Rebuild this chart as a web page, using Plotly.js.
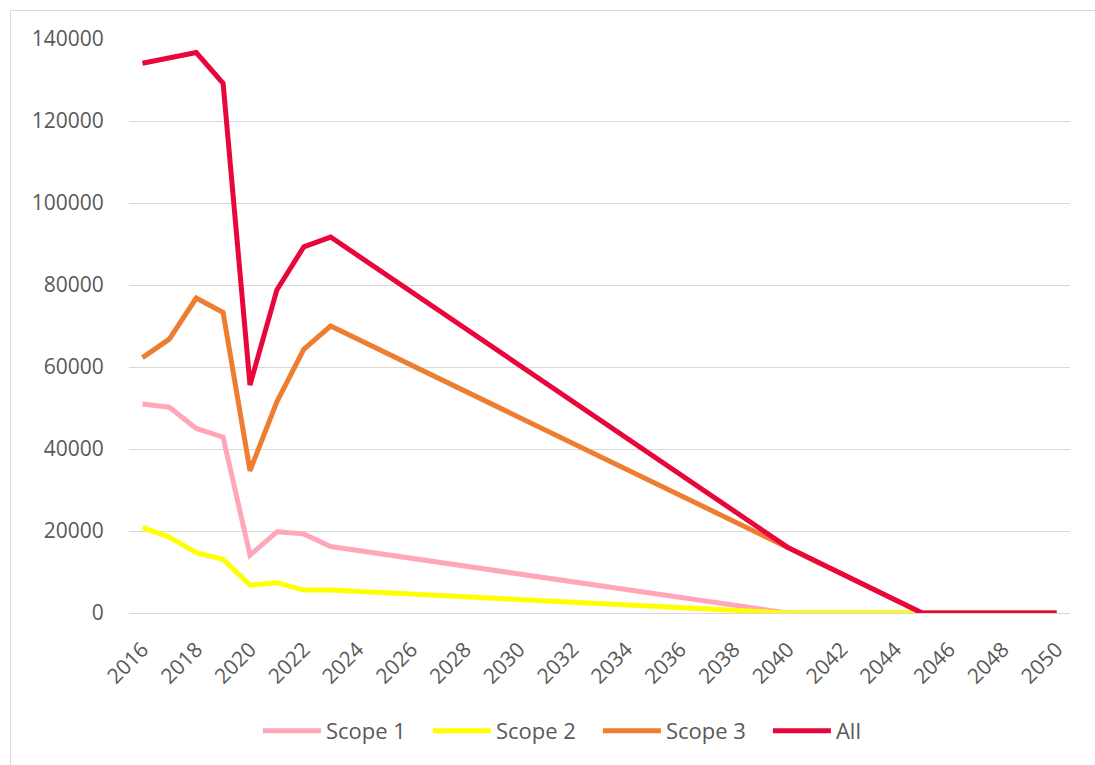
<!DOCTYPE html>
<html>
<head>
<meta charset="utf-8">
<script src="https://cdn.plot.ly/plotly-3.0.1.min.js"></script>
<style>
  html, body { margin: 0; padding: 0; background: #fff; }
  #wrap { position: relative; width: 1095px; height: 765px; overflow: hidden; }
  #chart { width: 1095px; height: 765px; }
  #frame { position: absolute; left: 10px; top: 10px; width: 1200px; height: 900px;
           border-left: 1px solid #d9d9d9; border-top: 1px solid #d9d9d9; pointer-events: none; }
</style>
</head>
<body>
<div id="wrap">
  <div id="chart"></div>
  <div id="frame"></div>
</div>
<script>
// Years at which the series change direction (lines are straight between them)
const years = [2016, 2017, 2018, 2019, 2020, 2021, 2022, 2023, 2040, 2045, 2050];
const scope1 = [51000, 50200, 45000, 42900, 14100, 19800, 19300, 16200, 0, 0, 0];
const scope2 = [20800, 18500, 14700, 13100, 6800, 7400, 5600, 5600, 0, 0, 0];
const scope3 = [62300, 66800, 76800, 73300, 34700, 51500, 64300, 70000, 16000, 0, 0];
const allScopes = [134100, 135400, 136700, 129200, 55600, 78800, 89300, 91700, 16000, 0, 0];

const seriesNames = ['Scope 1', 'Scope 2', 'Scope 3', 'All'];
const seriesValues = [scope1, scope2, scope3, allScopes];
const seriesColors = ['#FFA7B8', '#FFFF00', '#ED7D31', '#E8063C'];

const tickYears = [];
for (let y = 2016; y <= 2050; y += 2) tickYears.push(y);

const traces = seriesNames.map((n, i) => ({
  type: 'scatter',
  mode: 'lines',
  name: n,
  x: years,
  y: seriesValues[i],
  line: { color: seriesColors[i], width: 5, shape: 'linear' },
  hoverinfo: 'x+y+name'
}));

const font = 'Open Sans, Noto Sans, sans-serif';

const layout = {
  width: 1095,
  height: 765,
  margin: { l: 129, r: 25, t: 39, b: 152, autoexpand: false },
  paper_bgcolor: '#ffffff',
  plot_bgcolor: '#ffffff',
  showlegend: true,
  legend: {
    orientation: 'h',
    x: 0.137, xanchor: 'left',
    y: -0.2056, yanchor: 'middle',
    font: { family: font, size: 22, color: '#595959' },
    itemwidth: 58,
    entrywidth: 97,
    entrywidthmode: 'pixels',
    tracegroupgap: 0
  },
  xaxis: {
    type: 'linear',
    range: [2015.5, 2050.5],
    tickmode: 'array',
    tickvals: tickYears,
    ticktext: tickYears.map(String),
    tickangle: -45,
    tickfont: { family: font, size: 21, color: '#595959' },
    ticklabelstandoff: 19,
    showgrid: false,
    zeroline: false,
    showline: false,
    ticks: '',
    fixedrange: true
  },
  yaxis: {
    range: [0, 140000],
    tickmode: 'linear',
    tick0: 0,
    dtick: 20000,
    tickformat: 'd',
    tickfont: { family: font, size: 21, color: '#595959' },
    showgrid: true,
    gridcolor: '#d9d9d9',
    gridwidth: 1.3,
    zeroline: true,
    zerolinecolor: '#d9d9d9',
    zerolinewidth: 1.3,
    showline: false,
    ticks: 'outside',
    ticklen: 20,
    tickcolor: 'rgba(0,0,0,0)',
    fixedrange: true
  }
};

Plotly.newPlot('chart', traces, layout, { displayModeBar: false, staticPlot: false });
</script>
</body>
</html>
